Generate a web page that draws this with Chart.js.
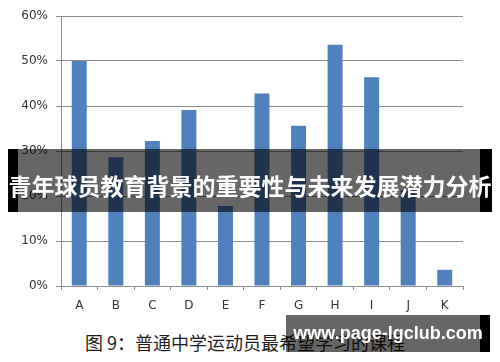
<!DOCTYPE html>
<html>
<head>
<meta charset="utf-8">
<script src="https://cdn.jsdelivr.net/npm/chart.js@4/dist/chart.umd.min.js"></script>
<style>
  html, body { margin: 0; padding: 0; background: #fff; }
  #wrap { position: relative; width: 500px; height: 362px; overflow: hidden; }
  #chart-box { position: absolute; left: 0; top: 0; width: 500px; height: 320px; }
  .caption {
    position: absolute; left: 85px; top: 329px; white-space: nowrap;
    font: 18px "Noto Sans CJK SC", sans-serif; color: #1e1e1e; line-height: 26px;
  }
  .banner {
    position: absolute; left: 8px; top: 149px; width: 462px; height: 63px;
    background: rgba(0,0,0,0.6); border-left: 10px solid #000; border-right: 12px solid #000;
  }
  .banner-text {
    position: absolute; left: 8px; top: 168px; width: 484px; text-align: center;
    font: bold 23px "Noto Sans CJK SC", sans-serif; color: #fff; line-height: 34px;
    white-space: nowrap; letter-spacing: 0px;
  }
  .mark {
    position: absolute; left: 286px; top: 315px; width: 194px; height: 37px;
    background: rgba(0,0,0,0.6); border-right: 10px solid #000;
  }
  .mark-text {
    position: absolute; left: 286px; top: 320px; width: 204px; text-align: center;
    font: bold 18px "Liberation Sans", sans-serif; color: #fff; line-height: 26px; white-space: nowrap;
  }
</style>
</head>
<body>
<div id="wrap">
  <div id="chart-box"><canvas id="chart"></canvas></div>
  <div class="caption">图 9：普通中学运动员最希望学习的课程</div>
  <div class="banner"></div>
  <div class="banner-text">青年球员教育背景的重要性与未来发展潜力分析</div>
  <div class="mark"></div>
  <div class="mark-text">www.page-lgclub.com</div>
</div>
<script>
const categories = ["A", "B", "C", "D", "E", "F", "G", "H", "I", "J", "K"];
const shares = [50, 28.6, 32.2, 39.1, 17.8, 42.8, 35.6, 53.6, 46.4, 21.3, 3.6];
const yTicks = [0, 10, 20, 30, 40, 50, 60];

const gridColor = "#8c8c8c";
const labelFont = { family: "DejaVu Sans", size: 12 };

const ctx = document.getElementById("chart").getContext("2d");
new Chart(ctx, {
  type: "bar",
  data: {
    labels: categories,
    datasets: [{
      data: shares,
      backgroundColor: "#4f81bd",
      borderWidth: 0,
      categoryPercentage: 1,
      barPercentage: 0.41
    }]
  },
  options: {
    responsive: true,
    maintainAspectRatio: false,
    animation: false,
    layout: { padding: { top: 16, right: 37, bottom: 0, left: 0 } },
    plugins: { legend: { display: false }, tooltip: { enabled: false } },
    scales: {
      x: {
        grid: { drawOnChartArea: false, drawTicks: true, tickLength: 4, color: gridColor, offset: true },
        border: { display: true, color: gridColor },
        ticks: { color: "#333", font: labelFont, padding: 9, maxRotation: 0 },
        afterFit: (s) => { s.height = 34; }
      },
      y: {
        min: yTicks[0],
        max: yTicks[yTicks.length - 1],
        afterBuildTicks: (s) => { s.ticks = yTicks.map(v => ({ value: v })); },
        grid: { color: gridColor, tickLength: 5 },
        border: { display: true, color: gridColor },
        ticks: { color: "#333", font: labelFont, padding: 8, callback: (v) => v + "%" },
        afterFit: (s) => { s.width = 61; }
      }
    }
  }
});
</script>
</body>
</html>
